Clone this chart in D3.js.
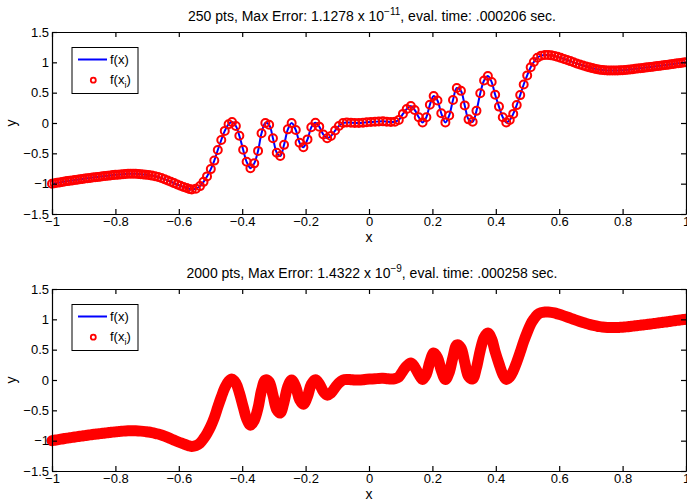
<!DOCTYPE html>
<html>
<head>
<meta charset="utf-8">
<script src="https://cdn.jsdelivr.net/npm/d3@7"></script>
<style>
  body { margin: 0; background: #fff; }
  svg { display: block; font-family: "Liberation Sans", Arial, Helvetica, sans-serif; }
</style>
</head>
<body>
<svg id="chart" width="687" height="502"></svg>
<script>
// nodes x_i and f(x_i) (dense at the ends)
const nodeX = [
  -1.000, -0.992, -0.984, -0.976, -0.968, -0.960, -0.952, -0.944, -0.936, -0.928,
  -0.920, -0.912, -0.904, -0.896, -0.888, -0.880, -0.872, -0.864, -0.856, -0.848,
  -0.840, -0.832, -0.824, -0.816, -0.808, -0.800, -0.792, -0.784, -0.776, -0.768,
  -0.760, -0.752, -0.744, -0.736, -0.728, -0.720, -0.712, -0.704, -0.695, -0.685,
  -0.675, -0.665, -0.655, -0.645, -0.635, -0.625, -0.615, -0.605, -0.595, -0.585,
  -0.575, -0.567,
  -0.559, -0.546, -0.533, -0.522, -0.511, -0.499, -0.488, -0.477, -0.466, -0.455,
  -0.443, -0.432, -0.420, -0.409, -0.397, -0.386, -0.374, -0.362, -0.350, -0.339,
  -0.327, -0.315, -0.303, -0.291, -0.280, -0.268, -0.256, -0.244, -0.231, -0.219,
  -0.207, -0.194, -0.182, -0.169, -0.157, -0.144, -0.132, -0.120, -0.107, -0.095,
  -0.082, -0.070, -0.057, -0.045, -0.032, -0.019, -0.007,
  0.006, 0.019, 0.031, 0.044, 0.056, 0.069, 0.082, 0.094, 0.107, 0.119,
  0.132, 0.144, 0.157, 0.169, 0.181, 0.192, 0.204, 0.216, 0.228, 0.241,
  0.253, 0.265, 0.277, 0.290, 0.302, 0.314, 0.327, 0.339, 0.351, 0.363,
  0.375, 0.387, 0.398, 0.410, 0.422, 0.433, 0.444, 0.455, 0.466, 0.477,
  0.488, 0.499, 0.510, 0.520, 0.531, 0.543, 0.555,
  0.565, 0.575, 0.585, 0.595, 0.605, 0.615, 0.625, 0.635, 0.645, 0.655,
  0.665, 0.675, 0.685, 0.695, 0.704, 0.712, 0.720, 0.728, 0.736, 0.744,
  0.752, 0.760, 0.768, 0.776, 0.784, 0.792, 0.800, 0.808, 0.816, 0.824,
  0.832, 0.840, 0.848, 0.856, 0.864, 0.872, 0.880, 0.888, 0.896, 0.904,
  0.912, 0.920, 0.928, 0.936, 0.944, 0.952, 0.960, 0.968, 0.976, 0.984,
  0.992, 1.000
];
const nodeY = [
  -1.000, -0.993, -0.986, -0.979, -0.972, -0.965, -0.958, -0.952, -0.946, -0.940,
  -0.934, -0.928, -0.922, -0.916, -0.910, -0.905, -0.899, -0.894, -0.889, -0.884,
  -0.879, -0.874, -0.869, -0.864, -0.859, -0.855, -0.851, -0.847, -0.843, -0.840,
  -0.838, -0.837, -0.837, -0.838, -0.840, -0.843, -0.847, -0.852, -0.858, -0.867,
  -0.878, -0.891, -0.907, -0.926, -0.947, -0.969, -0.991, -1.013, -1.034, -1.054,
  -1.072, -1.086,
  -1.095, -1.082, -1.040, -0.970, -0.880, -0.760, -0.620, -0.445, -0.280, -0.130,
  -0.020, 0.015, -0.050, -0.210, -0.440, -0.640, -0.745, -0.665, -0.460, -0.170,
  0.000, -0.030, -0.250, -0.490, -0.545, -0.360, -0.105, 0.000, -0.115, -0.325,
  -0.400, -0.270, -0.070, 0.005, -0.060, -0.190, -0.250, -0.215, -0.125, -0.050,
  0.000, 0.010, 0.005, 0.000, 0.000, 0.005, 0.012,
  0.016, 0.020, 0.026, 0.027, 0.022, 0.016, 0.022, 0.050, 0.150, 0.230,
  0.280, 0.215, 0.095, 0.010, 0.095, 0.300, 0.445, 0.370, 0.160, 0.010,
  0.125, 0.380, 0.577, 0.530, 0.290, 0.060, 0.020, 0.200, 0.490, 0.700,
  0.775, 0.675, 0.465, 0.270, 0.095, 0.010, 0.050, 0.150, 0.295, 0.460,
  0.635, 0.785, 0.920, 1.005, 1.075, 1.110, 1.122,
  1.120, 1.115, 1.105, 1.090, 1.074, 1.057, 1.039, 1.020, 1.001, 0.982,
  0.964, 0.947, 0.931, 0.917, 0.905, 0.895, 0.886, 0.879, 0.873, 0.869,
  0.866, 0.864, 0.864, 0.865, 0.866, 0.868, 0.870, 0.874, 0.878, 0.883,
  0.888, 0.893, 0.898, 0.903, 0.908, 0.913, 0.918, 0.923, 0.929, 0.934,
  0.940, 0.945, 0.951, 0.956, 0.962, 0.968, 0.974, 0.980, 0.986, 0.991,
  0.996, 1.000
];

const xTicks = [-1, -0.8, -0.6, -0.4, -0.2, 0, 0.2, 0.4, 0.6, 0.8, 1];
const yTicks = [-1.5, -1, -0.5, 0, 0.5, 1, 1.5];

// one entry per subplot
const panelPts = ['250', '2000'];
const errMantissa = ['1.1278', '1.4322'];
const errExponent = ['\u221211', '\u22129'];
const evalTime = ['.000206', '.000258'];

const BLUE = '#0000ff', RED = '#ff0000';
const left = 52, right = 686, plotH = 182;
const panelTop = [32, 289];

const svg = d3.select('#chart');
const pts = nodeX.map((v, i) => [v, nodeY[i]]);
const fmt = d3.format('');
const x = d3.scaleLinear().domain([-1, 1]).range([left, right]);

panelTop.forEach((top, k) => {
  const y = d3.scaleLinear().domain([-1.5, 1.5]).range([top + plotH, top]);
  const g = svg.append('g');

  const line = d3.line()
    .x(d => x(d[0]))
    .y(d => y(d[1]))
    .curve(d3.curveCatmullRom.alpha(0.5));

  // f(x)
  g.append('path')
    .datum(pts)
    .attr('d', line)
    .attr('fill', 'none')
    .attr('stroke', BLUE)
    .attr('stroke-width', 2);

  // f(x_i): separate rings for 250 pts, merged band for 2000 pts
  if (k === 0) {
    g.append('g').selectAll('circle')
      .data(pts)
      .join('circle')
      .attr('cx', d => x(d[0]))
      .attr('cy', d => y(d[1]))
      .attr('r', 4)
      .attr('fill', 'none')
      .attr('stroke', RED)
      .attr('stroke-width', 2);
  } else {
    g.append('path')
      .datum(pts)
      .attr('d', line)
      .attr('fill', 'none')
      .attr('stroke', RED)
      .attr('stroke-width', 11)
      .attr('stroke-linejoin', 'round')
      .attr('stroke-linecap', 'round');
  }

  // boxed axes, ticks pointing inward
  const axes = [
    [d3.axisBottom(x).tickValues(xTicks).tickFormat(fmt), `translate(0,${top + plotH})`],
    [d3.axisTop(x).tickValues(xTicks).tickFormat(() => ''), `translate(0,${top})`],
    [d3.axisLeft(y).tickValues(yTicks).tickFormat(fmt), `translate(${left},0)`],
    [d3.axisRight(y).tickValues(yTicks).tickFormat(() => ''), `translate(${right},0)`]
  ];
  axes.forEach(([ax, tr]) => {
    g.append('g')
      .attr('transform', tr)
      .call(ax.tickSizeInner(-5).tickSizeOuter(0).tickPadding(3))
      .attr('font-size', 13)
      .attr('font-family', null)
      .call(s => s.selectAll('line, path').attr('stroke', '#000').attr('stroke-width', 1.2));
  });

  // title with superscript exponent
  const title = g.append('text')
    .attr('x', (left + right) / 2 + 3)
    .attr('y', top - 11)
    .attr('text-anchor', 'middle')
    .attr('font-size', 14);
  title.append('tspan').text(`${panelPts[k]} pts, Max Error: ${errMantissa[k]} x 10`);
  title.append('tspan').attr('dy', -6).attr('font-size', 10).text(errExponent[k]);
  title.append('tspan').attr('dy', 6).text(`, eval. time: ${evalTime[k]} sec.`);

  g.append('text')
    .attr('x', (left + right) / 2)
    .attr('y', top + plotH + 28)
    .attr('text-anchor', 'middle')
    .attr('font-size', 14)
    .text('x');

  g.append('text')
    .attr('transform', `translate(16,${top + plotH / 2}) rotate(-90)`)
    .attr('text-anchor', 'middle')
    .attr('font-size', 14)
    .text('y');

  // legend
  const lg = g.append('g').attr('transform', `translate(72,${top + 15.5})`);
  lg.append('rect')
    .attr('width', 66).attr('height', 46)
    .attr('fill', '#fff').attr('stroke', '#000').attr('stroke-width', 1);
  lg.append('line')
    .attr('x1', 6).attr('x2', 35).attr('y1', 12).attr('y2', 12)
    .attr('stroke', BLUE).attr('stroke-width', 2);
  lg.append('text').attr('x', 38).attr('y', 16.5).attr('font-size', 13).text('f(x)');
  lg.append('circle')
    .attr('cx', 21.3).attr('cy', 32.7).attr('r', 2.5)
    .attr('fill', 'none').attr('stroke', RED).attr('stroke-width', 1.8);
  const t2 = lg.append('text').attr('x', 38).attr('y', 36.5).attr('font-size', 13);
  t2.append('tspan').text('f(x');
  t2.append('tspan').attr('dy', 3.5).attr('font-size', 9).text('i');
  t2.append('tspan').attr('dy', -3.5).text(')');
});
</script>
</body>
</html>
